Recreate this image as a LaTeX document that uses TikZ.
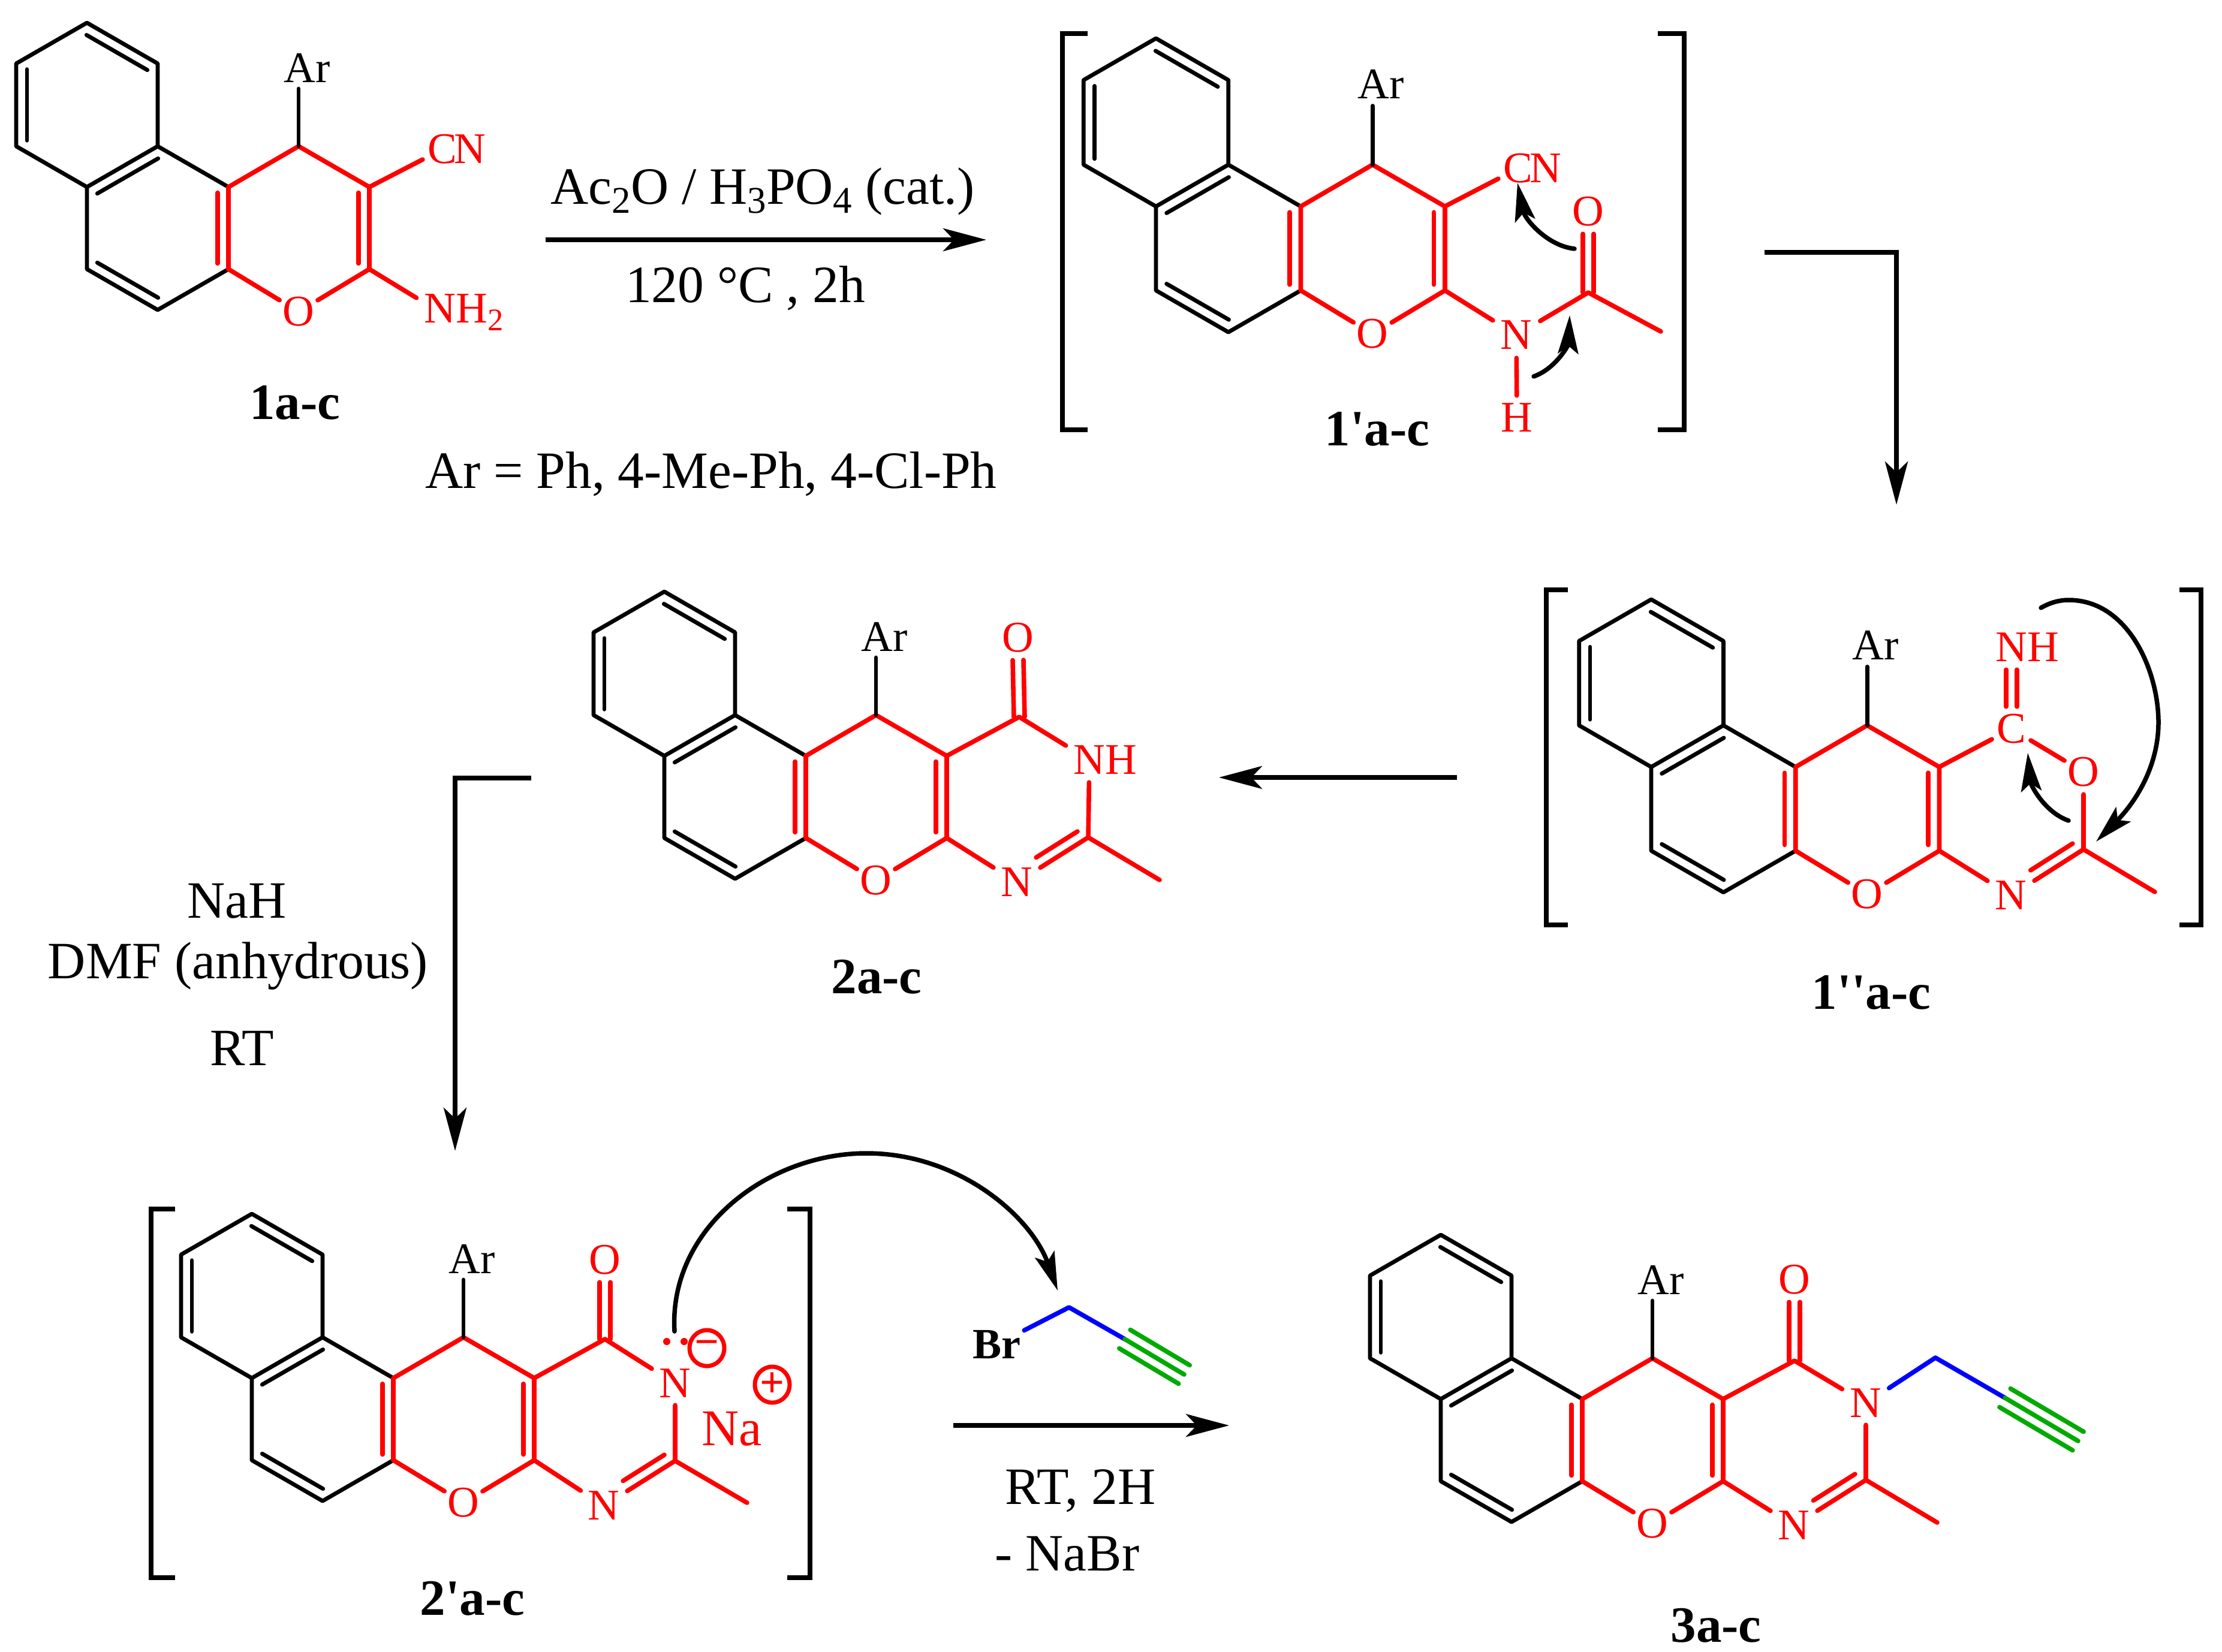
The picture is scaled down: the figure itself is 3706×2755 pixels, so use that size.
\documentclass[tikz,border=0pt]{standalone}
\usepackage{fontspec}
\setmainfont{Liberation Serif}
\usetikzlibrary{arrows.meta,calc}

\definecolor{alkyne}{RGB}{0,170,0}
\newcommand{\subnum}[1]{\raisebox{-.18em}{\scalebox{.72}{#1}}}

\tikzset{
  blackbond/.style={black,line width=6.8pt,line cap=round,line join=round},
  redbond/.style={red,line width=7.6pt,line cap=round,line join=round},
  bluebond/.style={blue,line width=7.6pt,line cap=round,line join=round},
  greenbond/.style={alkyne,line width=7.6pt,line cap=round},
  atom/.style={circle,inner sep=0pt,minimum size=74pt,yshift=-2pt,text=red,font=\fontsize{73}{80}\selectfont},
  natom/.style={atom,minimum size=92pt},
  arlabel/.style={inner sep=0pt,yshift=-2pt,font=\fontsize{73}{80}\selectfont},
  cmpd/.style={inner sep=0pt,yshift=-2pt,font=\fontsize{85}{90}\selectfont\bfseries},
  cond/.style={inner sep=0pt,font=\fontsize{87.5}{95}\selectfont},
  charge/.style={ellipse,draw=red,text=red,line width=7pt,inner sep=0pt,minimum width=58pt,minimum height=60pt,font=\fontsize{72}{72}\selectfont\bfseries},
  brack/.style={line width=8pt,line cap=butt,line join=miter},
  reaction/.style={line width=7.5pt,-{Stealth[length=72pt,width=38pt,inset=18pt]}},
  push/.style={line width=7.5pt,line cap=round,-{Stealth[length=64pt,width=34pt,inset=13pt]}},
}
\usetikzlibrary{shapes.geometric}

% inner line of a double bond, on the right of the way from #2 to #3
\newcommand{\innerbond}[4][.07]{\draw[#2] ($(#3)!.07!(#4)!18pt!-90:(#4)$) -- ($(#4)!#1!(#3)!18pt!90:(#3)$);}
\newcommand{\twinbond}[2]{
  \draw[redbond] ($(#1)!9pt!90:(#2)$) -- ($(#2)!9pt!-90:(#1)$);
  \draw[redbond] ($(#1)!9pt!-90:(#2)$) -- ($(#2)!9pt!90:(#1)$);
}
\newcommand{\yne}[2]{
  \draw[greenbond] (#1) -- (#2);
  \draw[greenbond] ($(#1)!18pt!90:(#2)$) -- ($(#2)!18pt!-90:(#1)$);
  \draw[greenbond] ($(#1)!18pt!-90:(#2)$) -- ($(#2)!18pt!90:(#1)$);
}
% the three rings shared by all six molecules
\newcommand{\ringcore}[3]{
  \begin{scope}[shift={(#1)},scale=#3,name prefix=#2-]
    \coordinate (a) at (0,0);
    \coordinate (b) at (118,68);
    \coordinate (c) at (118,206);
    \coordinate (d) at (0,274);
    \coordinate (e) at (-118,206);
    \coordinate (f) at (-118,68);
    \coordinate (g) at (0,411);
    \coordinate (h) at (118,479);
    \coordinate (i) at (236,411);
    \coordinate (j) at (236,274);
    \coordinate (k) at (353,206);
    \coordinate (l) at (471,274);
    \coordinate (m) at (471,411);
    \coordinate (up) at (353,110);
    \node[atom] (o) at (353,480) {O};
    \node[arlabel] (ar) at (367,73) {Ar};
    \draw[blackbond] (a) -- (b) -- (c) -- (d) -- (e) -- (f) -- cycle;
    \draw[blackbond] (c) -- (j);
    \draw[blackbond] (d) -- (g) -- (h) -- (i);
    \innerbond{blackbond}{a}{b}
    \innerbond{blackbond}{e}{f}
    \innerbond{blackbond}{d}{c}
    \innerbond{blackbond}{h}{g}
    \draw[redbond] (i) -- (j) -- (k) -- (l) -- (m);
    \draw[redbond] (i) -- (o);
    \draw[redbond] (m) -- (o);
    \innerbond{redbond}{j}{i}
    \innerbond{redbond}{l}{m}
    \draw[blackbond] (k) -- (up);
  \end{scope}
}

\begin{document}
\begin{tikzpicture}[x=1pt,y=-1pt]
  \useasboundingbox (0,0) rectangle (3706,2755);

  % 1a-c
  \ringcore{145,38}{one}{1}
  \node[atom] (one-cn) at (738,247) {C\rlap{\kern-5pt N}};
  \node[natom] (one-nh) at (734,519) {N\rlap{H\subnum{2}}};
  \draw[redbond] (one-l) -- (one-cn);
  \draw[redbond] (one-m) -- (one-nh);
  \node[cmpd] (one-name) at (492,670) {1a-c};
  \node[cond] (arlist) at (1186,791) {Ar = Ph, 4-Me-Ph, 4-Cl-Ph};

  % first step
  \coordinate (s1a) at (910,400);
  \coordinate (s1b) at (1645,400);
  \draw[reaction] (s1a) -- (s1b);
  \node[cond] (s1top) at (1272,319) {Ac\subnum{2}O / H\subnum{3}PO\subnum{4} (cat.)};
  \node[cond] (s1low) at (1243,481) {120 °C , 2h};

  % 1'a-c
  \ringcore{1928,64}{onep}{1.023}
  \node[atom] (onep-cn) at (2532,279) {C\rlap{\kern-5pt N}};
  \node[natom] (onep-n) at (2529,557) {N};
  \node[atom] (onep-o) at (2649,351) {O};
  \node[atom] (onep-h) at (2530,695) {H};
  \coordinate (onep-cc) at (2649,488);
  \coordinate (onep-me) at (2770,553);
  \draw[redbond] (onep-l) -- (onep-cn);
  \draw[redbond] (onep-m) -- (onep-n);
  \draw[redbond] (onep-n) -- (onep-cc) -- (onep-me);
  \draw[redbond,shorten <=-8pt] (onep-n) -- (onep-h);
  \twinbond{onep-cc}{onep-o.south}
  \node[cmpd] (onep-name) at (2297,714) {1\textquotesingle a-c};
  \draw[brack] (1814,56) -| (1772,717) -- (1814,717);
  \draw[brack] (2765,56) -| (2809,717) -- (2765,717);
  \coordinate (onep-p1) at (2626,415);
  \coordinate (onep-p2) at (2531,305);
  \draw[push] (onep-p1) .. controls (2580,410) and (2543,365) .. (onep-p2);
  \coordinate (onep-p3) at (2558,628);
  \coordinate (onep-p4) at (2618,526);
  \draw[push] (onep-p3) .. controls (2595,615) and (2616,575) .. (onep-p4);

  % second step
  \coordinate (s2a) at (2943,421);
  \coordinate (s2b) at (3163,842);
  \draw[reaction] (s2a) -| (s2b);

  % 1''a-c
  \ringcore{2754,1000}{onepp}{1.02}
  \node[atom] (onepp-cc) at (3355,1214) {C};
  \node[atom] (onepp-nh) at (3355,1078) {N\rlap{H}};
  \node[atom] (onepp-ox) at (3475,1286) {O};
  \node[natom] (onepp-n) at (3354,1492) {N};
  \coordinate (onepp-ca) at (3475,1417);
  \coordinate (onepp-me) at (3594,1488);
  \draw[redbond] (onepp-l) -- (onepp-cc);
  \draw[redbond] (onepp-cc) -- (onepp-ox);
  \draw[redbond] (onepp-ox) -- (onepp-ca) -- (onepp-me);
  \draw[redbond] (onepp-m) -- (onepp-n);
  \draw[redbond] (onepp-n) -- (onepp-ca);
  \twinbond{onepp-cc.north}{onepp-nh.south}
  \innerbond[.35]{redbond}{onepp-ca}{onepp-n}
  \node[cmpd] (onepp-name) at (3121,1654) {1\textquotesingle\textquotesingle a-c};
  \draw[brack] (2615,984) -| (2579,1543) -- (2615,1543);
  \draw[brack] (3635,984) -| (3671,1543) -- (3635,1543);
  \coordinate (onepp-p1) at (3404,1014);
  \coordinate (onepp-p2) at (3496,1404);
  \draw[push] (onepp-p1) .. controls (3420,1005) and (3435,1001) .. (3450,1001)
    .. controls (3550,1001) and (3600,1120) .. (3600,1205)
    .. controls (3600,1280) and (3560,1340) .. (onepp-p2);
  \coordinate (onepp-p3) at (3450,1369);
  \coordinate (onepp-p4) at (3382,1256);
  \draw[push] (onepp-p3) .. controls (3410,1355) and (3387,1310) .. (onepp-p4);

  % third step
  \coordinate (s3a) at (2430,1297);
  \coordinate (s3b) at (2033,1297);
  \draw[reaction] (s3a) -- (s3b);

  % 2a-c
  \ringcore{1108,987}{two}{1}
  \coordinate (two-cc) at (1700,1196);
  \coordinate (two-ca) at (1815,1397);
  \coordinate (two-me) at (1934,1468);
  \node[atom] (two-ox) at (1698,1062) {O};
  \node[natom] (two-nh) at (1817,1266) {N\rlap{H}};
  \node[natom] (two-n) at (1696,1470) {N};
  \draw[redbond] (two-l) -- (two-cc) -- (two-nh);
  \draw[redbond,shorten <=-9pt] (two-nh) -- (two-ca) -- (two-me);
  \draw[redbond] (two-m) -- (two-n);
  \draw[redbond] (two-n) -- (two-ca);
  \twinbond{two-cc}{two-ox.south}
  \innerbond[.35]{redbond}{two-ca}{two-n}
  \node[cmpd] (two-name) at (1462,1628) {2a-c};

  % fourth step
  \coordinate (s4a) at (886,1298);
  \coordinate (s4b) at (759,1920);
  \draw[reaction] (s4a) -| (s4b);
  \node[cond] (s4one) at (395,1503) {NaH};
  \node[cond] (s4two) at (397,1612) {DMF (anhydrous)};
  \node[cond] (s4three) at (404,1749) {RT};

  % 2'a-c
  \ringcore{420,2025}{twop}{1}
  \coordinate (twop-cc) at (1009,2234);
  \coordinate (twop-ca) at (1126,2437);
  \coordinate (twop-me) at (1246,2507);
  \node[atom] (twop-ox) at (1009,2100) {O};
  \node[natom] (twop-nn) at (1126,2306) {N};
  \node[natom] (twop-n) at (1007,2510) {N};
  \draw[redbond] (twop-l) -- (twop-cc) -- (twop-nn);
  \draw[redbond,shorten <=-10pt] (twop-nn) -- (twop-ca) -- (twop-me);
  \draw[redbond] (twop-m) -- (twop-n);
  \draw[redbond] (twop-n) -- (twop-ca);
  \twinbond{twop-cc}{twop-ox.south}
  \innerbond[.35]{redbond}{twop-ca}{twop-n}
  \fill[red] (1112,2238) circle (6);
  \fill[red] (1141,2238) circle (6);
  \node[charge] (twop-minus) at (1179,2249) {−};
  \node[charge] (twop-plus) at (1288,2310) {+};
  \node[arlabel,text=red,font=\fontsize{86}{90}\selectfont] (twop-na) at (1221,2382) {Na};
  \node[cmpd] (twop-name) at (788,2665) {2\textquotesingle a-c};
  \draw[brack] (292,2017) -| (252,2632) -- (292,2632);
  \draw[brack] (1313,2017) -| (1351,2632) -- (1313,2632);
  \coordinate (twop-p1) at (1125,2221);
  \coordinate (twop-p2) at (1764,2153);
  \draw[push] (twop-p1) .. controls (1115,2050) and (1280,1924) .. (1445,1924)
    .. controls (1600,1924) and (1720,2030) .. (twop-p2);

  % propargyl bromide
  \node[inner sep=6pt,font=\fontsize{72}{76}\selectfont\bfseries] (br) at (1662,2243) {Br};
  \coordinate (brch) at (1783,2181);
  \coordinate (bryne) at (1876,2234);
  \coordinate (brend) at (1975,2293);
  \draw[bluebond] (br) -- (brch) -- (bryne);
  \yne{bryne}{brend}

  % fifth step
  \coordinate (s5a) at (1590,2378);
  \coordinate (s5b) at (2050,2378);
  \draw[reaction] (s5a) -- (s5b);
  \node[cond] (s5one) at (1802,2487) {RT, 2H};
  \node[cond] (s5two) at (1780,2592) {- NaBr};

  % 3a-c
  \ringcore{2403,2060}{three}{1}
  \coordinate (three-cc) at (2993,2270);
  \coordinate (three-ca) at (3112,2469);
  \coordinate (three-me) at (3231,2540);
  \coordinate (three-ch) at (3228,2265);
  \coordinate (three-yn) at (3344,2332);
  \coordinate (three-end) at (3466,2404);
  \node[atom] (three-ox) at (2993,2133) {O};
  \node[natom] (three-nn) at (3112,2339) {N};
  \node[natom] (three-n) at (2992,2543) {N};
  \draw[redbond] (three-l) -- (three-cc) -- (three-nn);
  \draw[redbond,shorten <=-10pt] (three-nn) -- (three-ca) -- (three-me);
  \draw[redbond] (three-m) -- (three-n);
  \draw[redbond] (three-n) -- (three-ca);
  \twinbond{three-cc}{three-ox.south}
  \innerbond[.35]{redbond}{three-ca}{three-n}
  \draw[bluebond] (three-nn) -- (three-ch) -- (three-yn);
  \yne{three-yn}{three-end}
  \node[cmpd] (three-name) at (2862,2710) {3a-c};
\end{tikzpicture}
\end{document}
